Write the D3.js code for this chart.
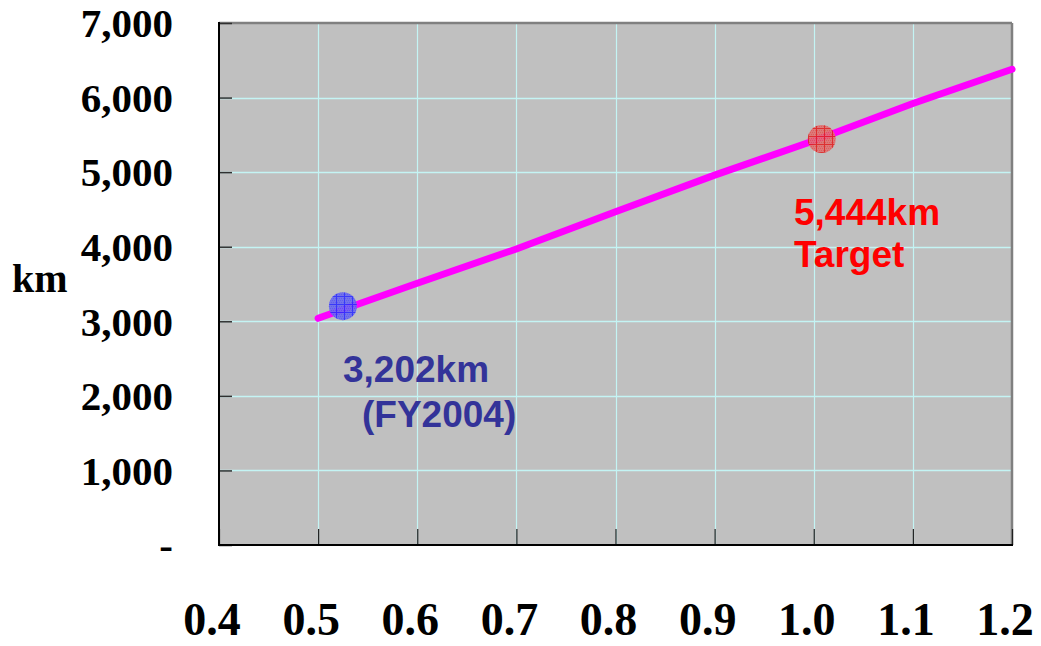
<!DOCTYPE html>
<html>
<head>
<meta charset="utf-8">
<script src="https://cdn.jsdelivr.net/npm/d3@7"></script>
<style>
  html, body { margin: 0; padding: 0; background: #ffffff; }
  svg { display: block; }
</style>
</head>
<body>
<svg id="chart" width="1041" height="646"></svg>
<script>
// Distance curve (km) against the horizontal factor
const lineX = [0.5, 0.6, 0.7, 0.8, 0.9, 1.0, 1.1, 1.2];
const lineKm = [3040, 3510, 3970, 4470, 4960, 5420, 5920, 6380];

// Highlighted points
const pointNames = ["FY2004", "Target"];
const pointX = [0.525, 1.008];
const pointKm = [3202, 5444];
const pointLabels = [["3,202km", "(FY2004)"], ["5,444km", "Target"]];

// Axis ticks
const xTicks = [0.4, 0.5, 0.6, 0.7, 0.8, 0.9, 1.0, 1.1, 1.2];
const yTicks = [0, 1000, 2000, 3000, 4000, 5000, 6000, 7000];
const yTickLabels = ["-", "1,000", "2,000", "3,000", "4,000", "5,000", "6,000", "7,000"];

const svg = d3.select("#chart");
const plotL = 219, plotR = 1012, plotT = 23, plotB = 545;

const x = d3.scaleLinear().domain([0.4, 1.2]).range([plotL, plotR]);
const y = d3.scaleLinear().domain([0, 7000]).range([plotB, plotT]);

// Marker fill patterns: fine dither with a square grid
const defs = svg.append("defs");
function makePattern(id, base, lineCol) {
  const p = defs.append("pattern").attr("id", id)
    .attr("patternUnits", "userSpaceOnUse")
    .attr("width", 8).attr("height", 8);
  p.append("rect").attr("width", 8).attr("height", 8).attr("fill", base);
  for (let i = 0; i < 8; i += 2) {
    for (let j = 0; j < 8; j += 2) {
      p.append("rect").attr("x", i + ((j / 2) % 2)).attr("y", j).attr("width", 1).attr("height", 1)
        .attr("fill", lineCol).attr("opacity", 0.35);
    }
  }
  p.append("rect").attr("x", 0).attr("y", 0).attr("width", 8).attr("height", 1).attr("fill", lineCol);
  p.append("rect").attr("x", 0).attr("y", 0).attr("width", 1).attr("height", 8).attr("fill", lineCol);
}
makePattern("patBlue", "#6a6af0", "#2a2aff");
makePattern("patRed", "#e07070", "#e02020");

// Plot background
svg.append("rect").attr("x", plotL).attr("y", plotT)
  .attr("width", plotR - plotL).attr("height", plotB - plotT)
  .attr("fill", "#c0c0c0");

// Gridlines
const gridCol = "#c4f4f4";
svg.append("g").selectAll("line")
  .data(xTicks.filter(d => d > 0.4 && d < 1.2))
  .join("line")
  .attr("x1", d => Math.round(x(d)) + 0.5).attr("x2", d => Math.round(x(d)) + 0.5)
  .attr("y1", plotT).attr("y2", plotB)
  .attr("stroke", gridCol).attr("stroke-width", 1.2);
svg.append("g").selectAll("line")
  .data(yTicks.filter(d => d > 0 && d < 7000))
  .join("line")
  .attr("x1", plotL).attr("x2", plotR)
  .attr("y1", d => Math.round(y(d)) + 0.5).attr("y2", d => Math.round(y(d)) + 0.5)
  .attr("stroke", gridCol).attr("stroke-width", 1.5);

// Frame: grey top/right, black left/bottom
svg.append("line").attr("x1", plotL).attr("x2", plotR).attr("y1", plotT).attr("y2", plotT)
  .attr("stroke", "#808080").attr("stroke-width", 2.5);
svg.append("line").attr("x1", plotR).attr("x2", plotR).attr("y1", plotT).attr("y2", plotB)
  .attr("stroke", "#808080").attr("stroke-width", 2.5);

// Axes with inward ticks
const xAxis = d3.axisTop(x).tickValues(xTicks).tickSize(16).tickFormat("");
svg.append("g").attr("transform", `translate(0,${plotB})`).call(xAxis)
  .call(g => g.select(".domain").remove())
  .call(g => g.selectAll(".tick line").attr("stroke", "#202020").attr("stroke-width", 1.2));
const yAxis = d3.axisRight(y).tickValues(yTicks).tickSize(13).tickFormat("");
svg.append("g").attr("transform", `translate(${plotL},0)`).call(yAxis)
  .call(g => g.select(".domain").remove())
  .call(g => g.selectAll(".tick line").attr("stroke", "#303030").attr("stroke-width", 1.5));

svg.append("line").attr("x1", plotL).attr("x2", plotL).attr("y1", plotT - 1).attr("y2", plotB + 1)
  .attr("stroke", "#000").attr("stroke-width", 2);
svg.append("line").attr("x1", plotL - 1).attr("x2", plotR + 1).attr("y1", plotB).attr("y2", plotB)
  .attr("stroke", "#000").attr("stroke-width", 2);

// Tick labels
const serif = "'Liberation Serif', 'Times New Roman', serif";
svg.append("g").selectAll("text")
  .data(yTicks)
  .join("text")
  .attr("x", 173).attr("y", d => y(d))
  .attr("dy", "0.35em")
  .attr("text-anchor", "end")
  .attr("font-family", serif).attr("font-weight", "bold").attr("font-size", 41)
  .attr("fill", "#000")
  .text((d, i) => yTickLabels[i]);

svg.append("g").selectAll("text")
  .data(xTicks)
  .join("text")
  .attr("x", d => x(d) - 7).attr("y", 635)
  .attr("text-anchor", "middle")
  .attr("font-family", serif).attr("font-weight", "bold").attr("font-size", 46)
  .attr("fill", "#000")
  .text(d => d.toFixed(1));

svg.append("text").attr("x", 12).attr("y", 292)
  .attr("font-family", serif).attr("font-weight", "bold").attr("font-size", 40)
  .attr("fill", "#000").text("km");

// Distance line
const line = d3.line().x((d, i) => x(lineX[i])).y(d => y(d));
svg.append("path").datum(lineKm)
  .attr("d", line)
  .attr("fill", "none").attr("stroke", "#ff00ff")
  .attr("stroke-width", 7).attr("stroke-linecap", "round");

// Highlighted points
const pats = ["url(#patBlue)", "url(#patRed)"];
svg.append("g").selectAll("circle")
  .data(pointKm)
  .join("circle")
  .attr("cx", (d, i) => x(pointX[i])).attr("cy", d => y(d))
  .attr("r", 14)
  .attr("fill", (d, i) => pats[i])
  .attr("fill-opacity", 0.9);

// Point annotations
const sans = "'Liberation Sans', Arial, sans-serif";
const labelCol = ["#333399", "#ff0000"];
const labelPos = [[343, 382, 362, 427], [794, 225, 794, 267]];
pointNames.forEach((name, i) => {
  const t = svg.append("text")
    .attr("font-family", sans).attr("font-weight", "bold").attr("font-size", 37)
    .attr("fill", labelCol[i]);
  t.append("tspan").attr("x", labelPos[i][0]).attr("y", labelPos[i][1]).text(pointLabels[i][0]);
  t.append("tspan").attr("x", labelPos[i][2]).attr("y", labelPos[i][3]).text(pointLabels[i][1]);
});
</script>
</body>
</html>
